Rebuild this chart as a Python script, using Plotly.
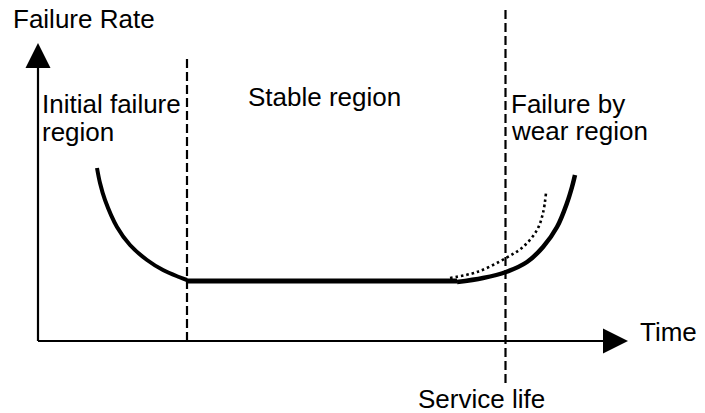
import plotly.graph_objects as go

# ---- Data (time units, failure-rate units) ----
early_time = [59, 62, 67, 79, 92, 109, 125, 141, 149]
early_rate = [173, 158, 141, 114, 96, 81, 71, 64, 61]

stable_time = [149, 419]
stable_rate = [60, 60]

wear_time = [419, 445, 468, 489, 505, 519, 529, 534, 537]
wear_rate = [59, 63, 69, 79, 94, 114, 138, 154, 166]

wear_alt_time = [412, 439, 468, 485, 499, 505, 508]
wear_alt_rate = [63, 69, 83, 94, 111, 128, 148]

boundary_early = 149      # end of initial failure region
boundary_service = 467.5  # service life

time_axis = [0, 565]
rate_axis = [0, 273]

labels = ["Failure Rate", "Initial failure", "region", "Stable region",
          "Failure by", "wear region", "Time", "Service life"]

FONT = dict(family="Liberation Sans, Arial, sans-serif", size=26, color="#000")
ARROW_LEN = 25
ARROW_HALF = 12.5

fig = go.Figure()

# axes lines
fig.add_trace(go.Scatter(x=[time_axis[0], time_axis[1]], y=[0, 0], mode="lines",
                         line=dict(color="black", width=2.2), hoverinfo="skip"))
fig.add_trace(go.Scatter(x=[0, 0], y=[rate_axis[0], rate_axis[1]], mode="lines",
                         line=dict(color="black", width=2.2), hoverinfo="skip"))
# arrow heads
xe = time_axis[1]
fig.add_trace(go.Scatter(x=[xe, xe + ARROW_LEN, xe, xe], y=[-ARROW_HALF, 0, ARROW_HALF, -ARROW_HALF],
                         mode="lines", fill="toself", fillcolor="black",
                         line=dict(color="black", width=0), hoverinfo="skip"))
ye = rate_axis[1]
fig.add_trace(go.Scatter(x=[-ARROW_HALF, 0, ARROW_HALF, -ARROW_HALF], y=[ye, ye + ARROW_LEN, ye, ye],
                         mode="lines", fill="toself", fillcolor="black",
                         line=dict(color="black", width=0), hoverinfo="skip"))

# region boundaries (dashed)
fig.add_trace(go.Scatter(x=[boundary_early, boundary_early], y=[0, 286], mode="lines",
                         line=dict(color="black", width=2.2, dash="9px,4px"), hoverinfo="skip"))
fig.add_trace(go.Scatter(x=[boundary_service, boundary_service], y=[-42, 334], mode="lines",
                         line=dict(color="black", width=2.2, dash="9px,4px"), hoverinfo="skip"))

# bathtub curve
fig.add_trace(go.Scatter(x=early_time, y=early_rate, mode="lines", line_shape="spline",
                         line=dict(color="black", width=4), hoverinfo="skip"))
fig.add_trace(go.Scatter(x=stable_time, y=stable_rate, mode="lines",
                         line=dict(color="black", width=5), hoverinfo="skip"))
fig.add_trace(go.Scatter(x=wear_time, y=wear_rate, mode="lines", line_shape="spline",
                         line=dict(color="black", width=4.5), hoverinfo="skip"))
fig.add_trace(go.Scatter(x=wear_alt_time, y=wear_alt_rate, mode="lines", line_shape="spline",
                         line=dict(color="black", width=2.6, dash="2.5px,3px"), hoverinfo="skip"))

# labels: (text, x, y)
label_pos = [(-25, 322), (4, 237), (4, 209), (210, 244), (473, 237), (473, 210), (602, 9.3), (380, -58)]
for txt, (lx, ly) in zip(labels, label_pos):
    fig.add_annotation(x=lx, y=ly, text=txt, showarrow=False, xanchor="left", yanchor="middle",
                       font=FONT, borderpad=0, borderwidth=0)

fig.update_layout(
    width=705, height=413, margin=dict(l=0, r=0, t=0, b=0),
    plot_bgcolor="white", paper_bgcolor="white", showlegend=False,
    xaxis=dict(range=[-38, 667], visible=False, fixedrange=True),
    yaxis=dict(range=[-72, 341], visible=False, fixedrange=True),
)
fig.write_html("out.html", config={"displayModeBar": False},
               post_script="document.body.style.margin='0';document.body.style.overflow='hidden';")
